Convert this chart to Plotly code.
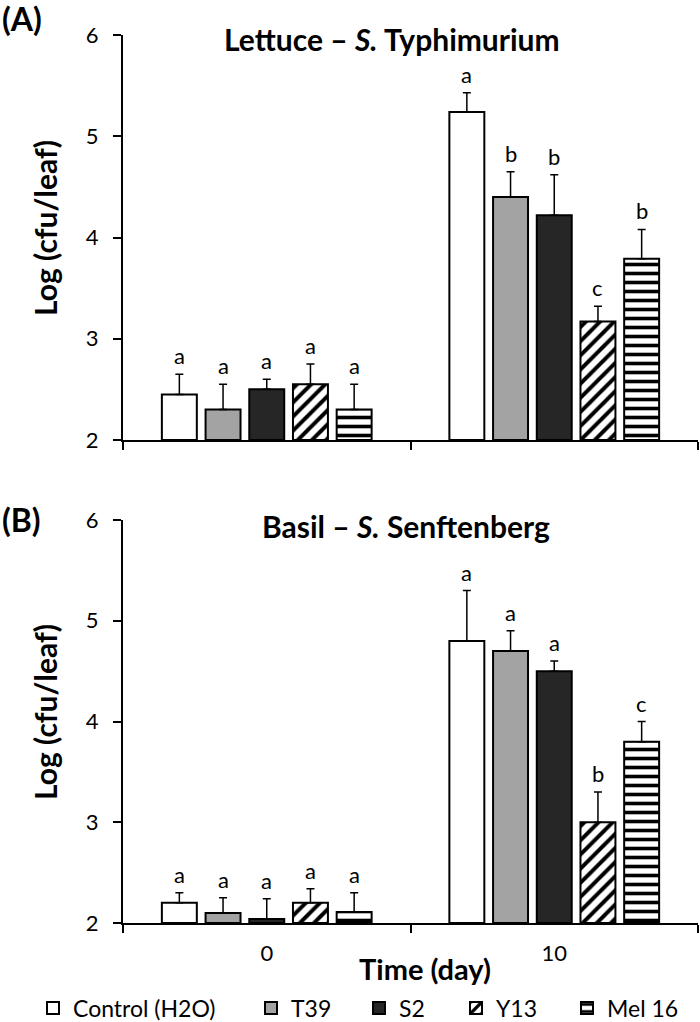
import plotly.graph_objects as go

# ---------------- data ----------------
days = ["0", "10"]
treatments = ["Control (H2O)", "T39", "S2", "Y13", "Mel 16"]

# Panel A: Lettuce - S. Typhimurium  (mean, error) per treatment for day 0, day 10
lettuce_mean = {
    "Control (H2O)": [2.45, 5.24],
    "T39": [2.30, 4.40],
    "S2": [2.50, 4.22],
    "Y13": [2.55, 3.17],
    "Mel 16": [2.30, 3.79],
}
lettuce_err = {
    "Control (H2O)": [0.20, 0.19],
    "T39": [0.25, 0.25],
    "S2": [0.10, 0.40],
    "Y13": [0.20, 0.15],
    "Mel 16": [0.25, 0.29],
}
lettuce_letters = {
    "Control (H2O)": ["a", "a"],
    "T39": ["a", "b"],
    "S2": ["a", "b"],
    "Y13": ["a", "c"],
    "Mel 16": ["a", "b"],
}

# Panel B: Basil - S. Senftenberg
basil_mean = {
    "Control (H2O)": [2.20, 4.80],
    "T39": [2.10, 4.70],
    "S2": [2.04, 4.50],
    "Y13": [2.20, 3.00],
    "Mel 16": [2.11, 3.80],
}
basil_err = {
    "Control (H2O)": [0.10, 0.50],
    "T39": [0.15, 0.20],
    "S2": [0.20, 0.10],
    "Y13": [0.14, 0.30],
    "Mel 16": [0.19, 0.20],
}
basil_letters = {
    "Control (H2O)": ["a", "a"],
    "T39": ["a", "a"],
    "S2": ["a", "a"],
    "Y13": ["a", "b"],
    "Mel 16": ["a", "c"],
}

y_ticks = [2, 3, 4, 5, 6]

# ---------------- styles ----------------
FONT = "Lato"
styles = {
    "Control (H2O)": dict(color="white", pattern=dict(shape="")),
    "T39": dict(color="#a3a3a3", pattern=dict(shape="")),
    "S2": dict(color="#262626", pattern=dict(shape="")),
    "Y13": dict(color="white", pattern=dict(shape="/", fgcolor="black", bgcolor="white",
                                             size=10, solidity=0.4, fillmode="replace")),
    "Mel 16": dict(color="white", pattern=dict(shape="-", fgcolor="black", bgcolor="white",
                                               size=9, solidity=0.4, fillmode="replace")),
}

# pixel geometry of the figure
W, H = 700, 1022
ML, MR, MT, MB = 123, 2, 35, 99
PW, PH = W - ML - MR, H - MT - MB


def px_x(px):
    return (px - ML) / PW


def px_y(py):
    return (H - MB - py) / PH


BARGAP = 0.24
GROUPGAP = 0.2

# legend entry start x (px) for each treatment
legend_px = [33, 251, 359, 456, 567]
legend_names = ["legend", "legend2", "legend3", "legend4", "legend5"]

fig = go.Figure()

panels = [
    ("x", "y", lettuce_mean, lettuce_err, lettuce_letters, True),
    ("x2", "y2", basil_mean, basil_err, basil_letters, False),
]

annotations = []
slot = (1 - BARGAP) / len(treatments)
for xa, ya, means, errs, letters, show in panels:
    for k, t in enumerate(treatments):
        st = styles[t]
        fig.add_trace(go.Bar(
            x=days, y=[m - 2 for m in means[t]], base=2,
            name=t, legendgroup=t, showlegend=show, legend=legend_names[k],
            xaxis=xa, yaxis=ya,
            marker=dict(color=st["color"], pattern=st["pattern"],
                        line=dict(color="black", width=2)),
            error_y=dict(type="data", symmetric=False, array=errs[t],
                         arrayminus=[0] * len(days), color="black",
                         thickness=1.5, width=4),
        ))
        for i, d in enumerate(days):
            annotations.append(dict(
                x=i + (k - (len(treatments) - 1) / 2) * slot,
                y=means[t][i] + errs[t][i],
                xref=xa, yref=ya, text=letters[t][i], showarrow=False,
                yanchor="bottom", yshift=3,
                font=dict(family=FONT, size=22, color="black"),
            ))

annotations += [
    dict(text="<b>(A)</b>", x=px_x(0), y=px_y(19), xref="paper", yref="paper",
         xanchor="left", yanchor="middle", showarrow=False,
         font=dict(family=FONT, size=32, color="black")),
    dict(text="<b>(B)</b>", x=px_x(0), y=px_y(519), xref="paper", yref="paper",
         xanchor="left", yanchor="middle", showarrow=False,
         font=dict(family=FONT, size=32, color="black")),
    dict(text="<b>Lettuce – <i>S.</i> Typhimurium</b>", x=px_x(392), y=px_y(39),
         xref="paper", yref="paper", xanchor="center", yanchor="middle",
         showarrow=False, font=dict(family=FONT, size=30, color="black")),
    dict(text="<b>Basil – <i>S.</i> Senftenberg</b>", x=px_x(406), y=px_y(526),
         xref="paper", yref="paper", xanchor="center", yanchor="middle",
         showarrow=False, font=dict(family=FONT, size=30, color="black")),
    dict(text="<b>Log (cfu/leaf)</b>", x=px_x(45), y=px_y(228), textangle=-90,
         xref="paper", yref="paper", xanchor="center", yanchor="middle",
         showarrow=False, font=dict(family=FONT, size=30, color="black")),
    dict(text="<b>Log (cfu/leaf)</b>", x=px_x(45), y=px_y(712), textangle=-90,
         xref="paper", yref="paper", xanchor="center", yanchor="middle",
         showarrow=False, font=dict(family=FONT, size=30, color="black")),
    dict(text="<b>Time (day)</b>", x=px_x(425), y=px_y(968),
         xref="paper", yref="paper", xanchor="center", yanchor="middle",
         showarrow=False, font=dict(family=FONT, size=29, color="black")),
]

xcommon = dict(type="category", categoryorder="array", categoryarray=days,
               range=[-0.5, len(days) - 0.5], showline=True, linecolor="black",
               linewidth=2, ticks="outside", tickson="boundaries", ticklen=8,
               tickwidth=2, tickcolor="black", showgrid=False, zeroline=False,
               automargin=False,
               tickfont=dict(family=FONT, size=22, color="black"))
ycommon = dict(range=[2, 6], tickvals=y_ticks, showline=True, linecolor="black",
               linewidth=2, ticks="outside", ticklen=8, tickwidth=2,
               tickcolor="black", showgrid=False, zeroline=False,
               ticklabelstandoff=10, automargin=False,
               tickfont=dict(family=FONT, size=22, color="black"))

legend_common = dict(orientation="h", xanchor="left", yanchor="middle",
                     xref="container", yref="container",
                     y=(H - 1008) / H, bgcolor="rgba(0,0,0,0)", borderwidth=0,
                     font=dict(family=FONT, size=23, color="black"),
                     itemwidth=30)
legends = {name: dict(legend_common, x=p / W) for name, p in zip(legend_names, legend_px)}

fig.update_layout(
    width=W, height=H,
    margin=dict(l=ML, r=MR, t=MT, b=MB, autoexpand=False),
    paper_bgcolor="white", plot_bgcolor="white",
    barmode="group", bargap=BARGAP, bargroupgap=GROUPGAP,
    font=dict(family=FONT, color="black"),
    xaxis=dict(xcommon, domain=[0, 1], anchor="y", showticklabels=False),
    yaxis=dict(ycommon, domain=[px_y(440), 1], anchor="x"),
    xaxis2=dict(xcommon, domain=[0, 1], anchor="y2", ticklabelstandoff=10),
    yaxis2=dict(ycommon, domain=[0, px_y(520)], anchor="x2"),
    annotations=annotations,
    showlegend=True,
    **legends,
)

fig.write_html("out.html", config={"displayModeBar": False},
               post_script="document.body.style.margin='0';document.body.style.padding='0';")
